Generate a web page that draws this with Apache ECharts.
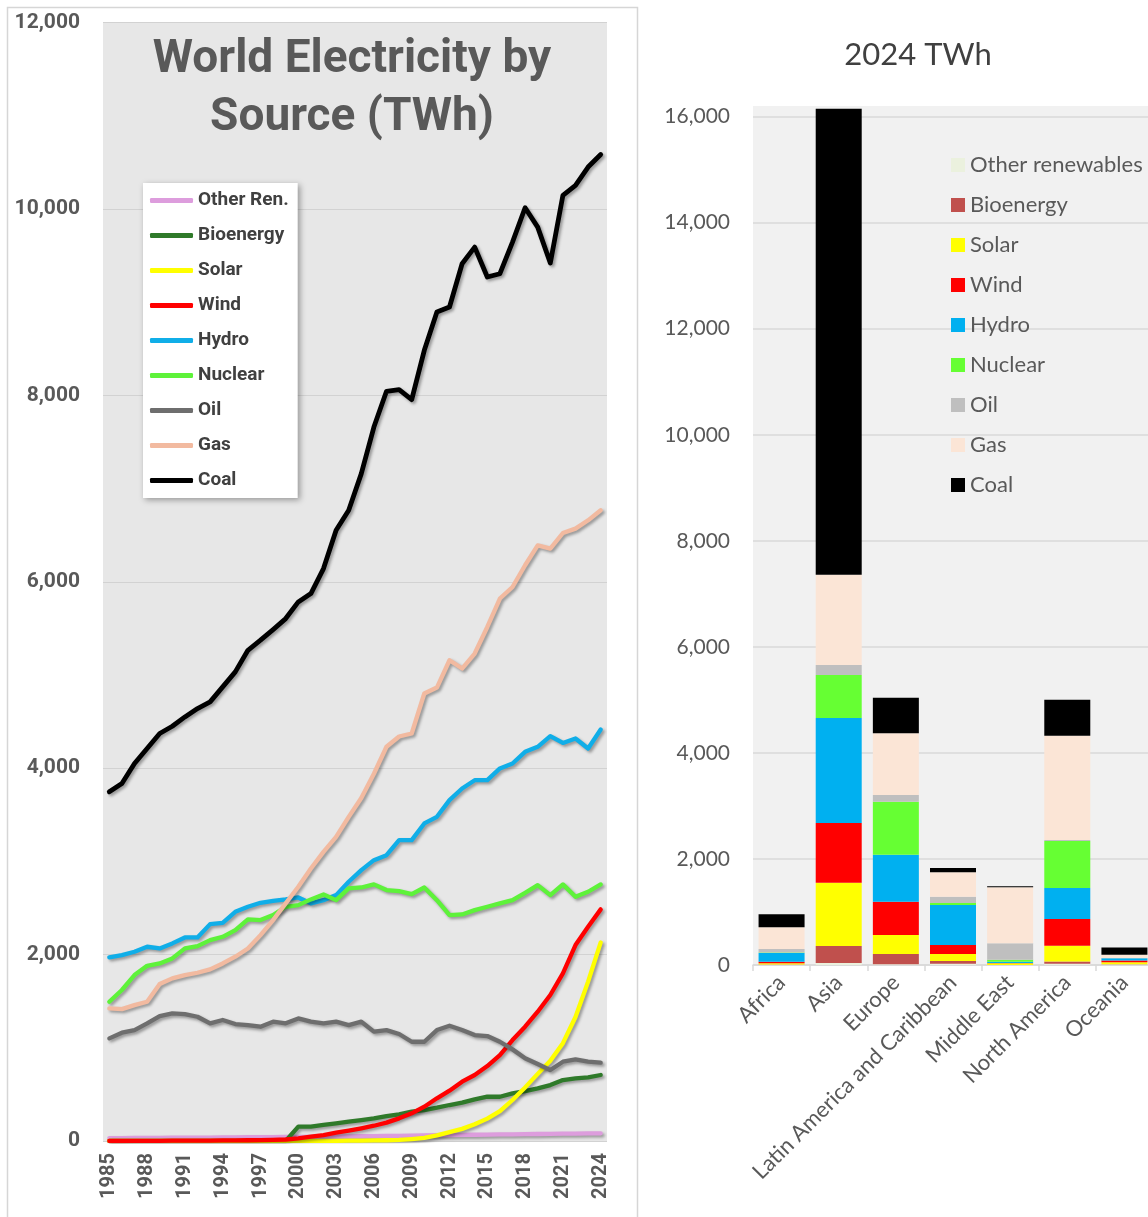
<!DOCTYPE html>
<html>
<head>
<meta charset="utf-8">
<script src="https://cdn.jsdelivr.net/npm/echarts@6/dist/echarts.min.js"></script>
<style>
  html, body { margin: 0; padding: 0; background: #fff; overflow: hidden; }
  #lines { position: absolute; left: 0; top: 0; width: 645px; height: 1217px; }
  #bars { position: absolute; left: 640px; top: 0; width: 520px; height: 1217px; }
</style>
</head>
<body>
<div id="lines"></div>
<div id="bars"></div>
<script>
// ---- World electricity by source, 1985-2024 (TWh) ----
const years = [];
for (let y = 1985; y <= 2024; y++) years.push(String(y));

const otherRen = [30, 31, 32, 33, 34, 35, 36, 37, 37, 38, 39, 40, 41, 42, 43, 45, 45, 46, 47, 49, 51, 52, 54, 56, 57, 60, 62, 63, 65, 67, 69, 71, 72, 74, 75, 77, 79, 80, 81, 82];
const bioenergy = [0, 0, 0, 0, 0, 0, 0, 0, 0, 0, 0, 0, 0, 0, 0, 154, 154, 172, 189, 207, 225, 243, 268, 286, 315, 332, 357, 386, 411, 447, 475, 475, 511, 536, 565, 600, 654, 672, 683, 708];
const solar = [0, 0, 0, 0, 0, 0, 0, 0, 0, 0, 0, 0, 0, 0, 1, 1, 1, 2, 2, 3, 4, 6, 8, 12, 21, 33, 60, 95, 130, 180, 240, 320, 440, 575, 720, 860, 1050, 1330, 1710, 2130];
const wind = [0, 0, 1, 1, 2, 3, 3, 4, 5, 6, 7, 8, 10, 12, 16, 29, 46, 64, 89, 111, 136, 164, 197, 243, 297, 368, 458, 540, 636, 708, 804, 922, 1083, 1226, 1387, 1566, 1798, 2102, 2298, 2485];
const hydro = [1970, 1995, 2030, 2084, 2066, 2120, 2184, 2184, 2327, 2341, 2459, 2513, 2556, 2577, 2592, 2613, 2549, 2584, 2638, 2781, 2906, 3013, 3067, 3228, 3228, 3407, 3478, 3657, 3782, 3871, 3871, 3997, 4050, 4175, 4229, 4343, 4271, 4318, 4211, 4415];
const nuclear = [1494, 1620, 1780, 1880, 1905, 1959, 2066, 2091, 2155, 2191, 2263, 2377, 2370, 2424, 2513, 2531, 2592, 2645, 2584, 2710, 2720, 2753, 2692, 2681, 2649, 2720, 2584, 2424, 2431, 2477, 2513, 2549, 2584, 2663, 2745, 2638, 2753, 2620, 2674, 2753];
const oil = [1101, 1162, 1190, 1262, 1340, 1369, 1362, 1333, 1262, 1298, 1255, 1244, 1226, 1280, 1262, 1315, 1280, 1262, 1280, 1244, 1280, 1173, 1190, 1148, 1065, 1065, 1190, 1237, 1190, 1137, 1126, 1065, 983, 887, 826, 761, 851, 876, 851, 840];
const gas = [1423, 1415, 1458, 1494, 1684, 1745, 1780, 1805, 1841, 1905, 1977, 2066, 2209, 2370, 2549, 2727, 2924, 3102, 3263, 3478, 3680, 3940, 4230, 4340, 4372, 4801, 4865, 5158, 5069, 5230, 5515, 5820, 5944, 6177, 6391, 6356, 6523, 6570, 6659, 6767];
const coal = [3746, 3836, 4050, 4211, 4372, 4450, 4550, 4640, 4711, 4872, 5033, 5265, 5373, 5487, 5605, 5784, 5873, 6141, 6552, 6767, 7160, 7660, 8043, 8061, 7954, 8483, 8894, 8948, 9412, 9590, 9269, 9305, 9644, 10013, 9805, 9419, 10145, 10252, 10449, 10584];

const lineNames = ['Other Ren.', 'Bioenergy', 'Solar', 'Wind', 'Hydro', 'Nuclear', 'Oil', 'Gas', 'Coal'];
const lineValues = [otherRen, bioenergy, solar, wind, hydro, nuclear, oil, gas, coal];
const lineColors = ['#dd9ddd', '#2f7a2a', '#ffff00', '#ff0000', '#10aee8', '#5ef23a', '#6e6e6e', '#f2baa0', '#000000'];
const lineTicks = [0, 2000, 4000, 6000, 8000, 10000, 12000];

// ---- 2024 generation by region (TWh) ----
const regions = ['Africa', 'Asia', 'Europe', 'Latin America and Caribbean', 'Middle East', 'North America', 'Oceania'];
const regOther = [5, 40, 15, 25, 1, 25, 8];
const regBio = [6, 320, 192, 50, 1, 40, 4];
const regSolar = [20, 1193, 359, 132, 29, 300, 40];
const regWind = [32, 1125, 628, 170, 5, 502, 33];
const regHydro = [163, 1980, 887, 754, 25, 585, 40];
const regNuclear = [10, 811, 999, 38, 40, 886, 0];
const regOil = [66, 188, 126, 120, 308, 19, 6];
const regGas = [408, 1704, 1163, 459, 1056, 1968, 60];
const regCoal = [245, 8789, 672, 81, 20, 679, 139];

const barNames = ['Other renewables', 'Bioenergy', 'Solar', 'Wind', 'Hydro', 'Nuclear', 'Oil', 'Gas', 'Coal'];
const barValues = [regOther, regBio, regSolar, regWind, regHydro, regNuclear, regOil, regGas, regCoal];
const barColors = ['#ebf1de', '#c0504d', '#ffff00', '#ff0000', '#00b0f0', '#66ff33', '#bfbfbf', '#fbe5d6', '#000000'];

// bold face for the line chart, plain face for the bar chart
const heavy = "Roboto, 'Liberation Sans', sans-serif";
const body = "Lato, 'Open Sans', sans-serif";
const thousands = v => Number(v).toLocaleString('en-US');

// ---------- line chart ----------
const lineChart = echarts.init(document.getElementById('lines'), null, { renderer: 'canvas' });
lineChart.setOption({
  animation: false,
  graphic: [{
    type: 'rect', silent: true, z: -10,
    shape: { x: 7.5, y: 7.5, width: 630, height: 1230 },
    style: { fill: 'none', stroke: '#d6d6d6', lineWidth: 1.5 }
  }],
  title: {
    text: 'World Electricity by\nSource (TWh)',
    left: 347, top: 26, textAlign: 'center',
    textStyle: { fontFamily: heavy, fontWeight: 'bold', fontSize: 46, lineHeight: 58, color: '#595959' }
  },
  grid: {
    left: 103, top: 22.5, width: 504, height: 1118.5,
    show: true, backgroundColor: '#e7e7e7', borderWidth: 0
  },
  legend: {
    orient: 'vertical', left: 143, top: 183,
    backgroundColor: '#ffffff', padding: [8, 9, 8, 7],
    shadowBlur: 6, shadowColor: 'rgba(0,0,0,0.35)', shadowOffsetX: 2, shadowOffsetY: 2,
    itemWidth: 43, itemHeight: 5, itemGap: 16, icon: 'roundRect',
    textStyle: { fontFamily: heavy, fontWeight: 'bold', fontSize: 19, lineHeight: 18, color: '#404040' },
    data: lineNames
  },
  xAxis: {
    type: 'category', data: years, boundaryGap: true,
    axisLine: { show: false }, axisTick: { show: false },
    axisLabel: { rotate: 90, interval: 2, margin: 12, fontFamily: heavy, fontWeight: 'bold', fontSize: 20, color: '#595959' }
  },
  yAxis: {
    type: 'value', min: lineTicks[0], max: lineTicks[lineTicks.length - 1], interval: 2000,
    axisLine: { show: false }, axisTick: { show: false },
    splitLine: { lineStyle: { color: '#d2d2d2', width: 1 } },
    axisLabel: { margin: 23, fontFamily: heavy, fontWeight: 'bold', fontSize: 21, color: '#595959', formatter: thousands }
  },
  series: lineNames.map((name, i) => ({
    name, type: 'line', data: lineValues[i], symbol: 'none', smooth: false,
    itemStyle: { color: lineColors[i] },
    lineStyle: {
      color: lineColors[i], width: name === 'Coal' ? 4.8 : 4.3, cap: 'round', join: 'round',
      shadowColor: 'rgba(0,0,0,0.35)', shadowBlur: 3, shadowOffsetX: 2, shadowOffsetY: 2
    },
    emphasis: { disabled: true }
  }))
});

// ---------- stacked bar chart ----------
const barChart = echarts.init(document.getElementById('bars'), null, { renderer: 'canvas' });
barChart.setOption({
  animation: false,
  title: {
    text: '2024 TWh', left: 273, top: 34, textAlign: 'center',
    textStyle: { fontFamily: body, fontWeight: 'normal', fontSize: 31, color: '#404040' }
  },
  grid: {
    left: 113, top: 106, width: 400, height: 859,
    show: true, backgroundColor: '#f1f1f1', borderWidth: 0
  },
  legend: {
    orient: 'vertical', left: 306, top: 149,
    icon: 'rect', itemWidth: 14, itemHeight: 14, itemGap: 18,
    textStyle: { fontFamily: body, fontSize: 22, lineHeight: 22, color: '#595959' },
    data: barNames
  },
  xAxis: {
    type: 'category', data: regions,
    axisLine: { show: true, lineStyle: { color: '#d9d9d9', width: 1.5 } },
    axisTick: { show: true, length: 6, lineStyle: { color: '#d9d9d9', width: 1.5 } },
    axisLabel: { rotate: 45, interval: 0, margin: 14, fontFamily: body, fontSize: 22, color: '#595959' }
  },
  yAxis: {
    type: 'value', min: 0, max: 16200, interval: 2000,
    axisLine: { show: false }, axisTick: { show: false },
    splitLine: { showMaxLine: false, lineStyle: { color: '#d9d9d9', width: 1.5 } },
    axisLabel: {
      margin: 23, fontFamily: body, fontSize: 21, color: '#595959', showMaxLabel: false,
      formatter: v => (v % 2000 === 0 ? thousands(v) : '')
    }
  },
  series: barNames.map((name, i) => ({
    name, type: 'bar', stack: 'total', barWidth: 46, clip: false,
    data: barValues[i],
    itemStyle: { color: barColors[i] },
    emphasis: { disabled: true }
  }))
});
</script>
</body>
</html>
